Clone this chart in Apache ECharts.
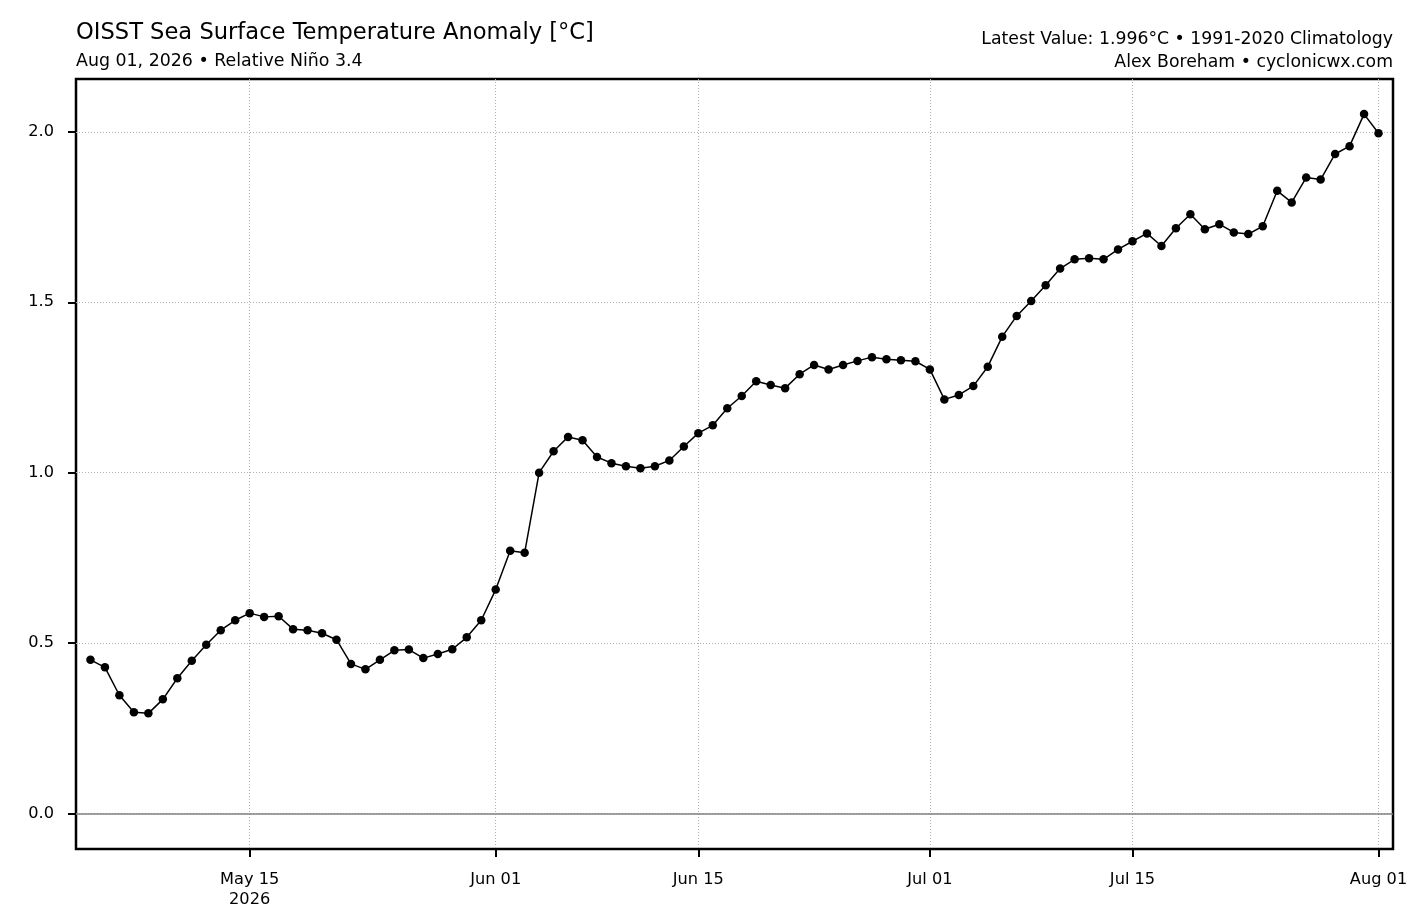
<!DOCTYPE html>
<html>
<head>
<meta charset="utf-8">
<title>OISST Sea Surface Temperature Anomaly</title>
<script src="https://cdn.jsdelivr.net/npm/echarts@6/dist/echarts.min.js"></script>
<style>
  html, body { margin: 0; padding: 0; background: #fff; }
  #chart { width: 1417px; height: 916px; }
</style>
</head>
<body>
<div id="chart"></div>
<script>
// daily Niño 3.4 anomaly, May 04 .. Aug 01 2026
var startDay = [2026, 4, 4];   // year, month index, day
var anomaly = [
    0.451, 0.429, 0.347, 0.297, 0.294, 0.335, 0.397, 0.448, 0.495, 0.538,
    0.567, 0.588, 0.577, 0.579, 0.541, 0.538, 0.529, 0.510, 0.439, 0.423,
    0.451, 0.479, 0.481, 0.456, 0.468, 0.482, 0.517, 0.567, 0.657, 0.771,
    0.765, 1.000, 1.063, 1.105, 1.095, 1.046, 1.028, 1.019, 1.013, 1.019,
    1.036, 1.077, 1.116, 1.139, 1.189, 1.225, 1.268, 1.257, 1.248, 1.289,
    1.316, 1.303, 1.316, 1.328, 1.339, 1.333, 1.330, 1.327, 1.303, 1.215,
    1.228, 1.254, 1.311, 1.399, 1.460, 1.504, 1.550, 1.599, 1.626, 1.629,
    1.626, 1.655, 1.679, 1.702, 1.665, 1.717, 1.758, 1.714, 1.729, 1.705,
    1.700, 1.723, 1.827, 1.793, 1.866, 1.860, 1.935, 1.958, 2.052, 1.996
];
var xTicks = [[2026, 4, 15], [2026, 5, 1], [2026, 5, 15], [2026, 6, 1], [2026, 6, 15], [2026, 7, 1]];
var xTickLabels = ['May 15\n2026', 'Jun 01', 'Jun 15', 'Jul 01', 'Jul 15', 'Aug 01'];
var yTicks = [0, 0.5, 1.0, 1.5, 2.0];

// days are kept as UTC timestamps on a plain value axis
function ts(y, m, d) {
    return Date.UTC(y, m, d);
}

var points = [];
for (var i = 0; i < anomaly.length; i++) {
    points.push([ts(startDay[0], startDay[1], startDay[2] + i), anomaly[i]]);
}
var tickTimes = xTicks.map(function (t) { return ts(t[0], t[1], t[2]); });

var font = 'DejaVu Sans';
var myChart = echarts.init(document.getElementById('chart'));

function headText(fontSize) {
    return {fontFamily: font, fontSize: fontSize, lineHeight: fontSize, fontWeight: 'normal', color: '#000'};
}

var option = {
    animation: false,
    backgroundColor: '#fff',
    title: [
        {
            text: 'OISST Sea Surface Temperature Anomaly [°C]',
            left: 76, top: 22, padding: 0,
            textStyle: headText(22.6)
        },
        {
            text: 'Aug 01, 2026 • Relative Niño 3.4',
            left: 76, top: 52.5, padding: 0,
            textStyle: headText(17.4)
        },
        {
            text: 'Latest Value: 1.996°C • 1991-2020 Climatology',
            right: 24, top: 30.5, padding: 0,
            textStyle: headText(17.3)
        },
        {
            text: 'Alex Boreham • cyclonicwx.com',
            right: 24, top: 53.5, padding: 0,
            textStyle: headText(17.3)
        }
    ],
    grid: {
        left: 76, right: 24, top: 79, bottom: 67,
        show: true,
        borderColor: '#000',
        borderWidth: 2.5,
        backgroundColor: '#fff'
    },
    xAxis: {
        type: 'value',
        min: ts(2026, 4, 3),
        max: ts(2026, 7, 2),
        axisLine: {show: false, onZero: false},
        axisTick: {
            show: true, length: 8, customValues: tickTimes,
            lineStyle: {color: '#000', width: 2}
        },
        axisLabel: {
            customValues: tickTimes,
            margin: 21,
            fontFamily: font, fontSize: 16.2, lineHeight: 20, color: '#000',
            formatter: function (val) {
                var k = tickTimes.indexOf(+val);
                return k < 0 ? '' : xTickLabels[k];
            }
        },
        splitLine: {
            show: true,
            lineStyle: {color: '#b0b0b0', width: 1, type: [1, 2]}
        }
    },
    yAxis: {
        type: 'value',
        min: -0.104,
        max: 2.155,
        axisLine: {show: false, onZero: false},
        axisTick: {
            show: true, length: 8, customValues: yTicks,
            lineStyle: {color: '#000', width: 2}
        },
        axisLabel: {
            customValues: yTicks,
            margin: 22,
            fontFamily: font, fontSize: 16.2, color: '#000',
            formatter: function (v) { return (+v).toFixed(1); }
        },
        splitLine: {
            show: true,
            lineStyle: {color: '#b0b0b0', width: 1, type: [1, 2]}
        }
    },
    series: [{
        type: 'line',
        data: points,
        symbol: 'circle',
        symbolSize: 8.5,
        showSymbol: true,
        itemStyle: {color: '#000'},
        lineStyle: {color: '#000', width: 1.5},
        markLine: {
            silent: true,
            symbol: ['none', 'none'],
            label: {show: false},
            lineStyle: {color: '#808080', width: 1.5, type: 'solid'},
            data: [{yAxis: 0}]
        }
    }]
};

myChart.setOption(option);
</script>
</body>
</html>
